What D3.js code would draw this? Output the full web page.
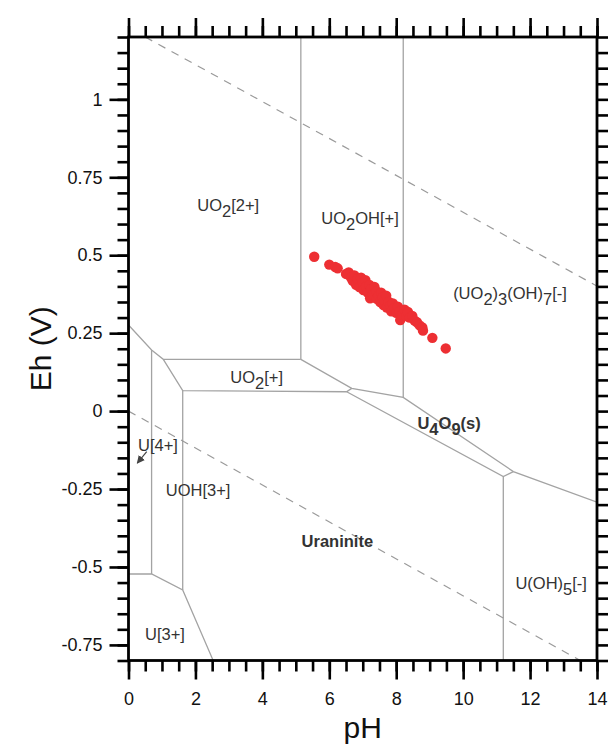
<!DOCTYPE html>
<html><head><meta charset="utf-8">
<script src="https://cdn.jsdelivr.net/npm/d3@7"></script>
<style>
html,body{margin:0;padding:0;background:#fff;}
svg{display:block;font-family:"Liberation Sans",Arial,sans-serif;}
</style></head>
<body><svg id="c" width="611" height="744"></svg>
<script>
// ---- data ----
const xDomain = [0, 14];
const yDomain = [-0.8, 1.2];
const xMajorTicks = [0, 2, 4, 6, 8, 10, 12, 14];
const yMajorTicks = [-0.75, -0.5, -0.25, 0, 0.25, 0.5, 0.75, 1];
const yTickLabels = ["-0.75", "-0.5", "-0.25", "0", "0.25", "0.5", "0.75", "1"];

// water stability limits (dashed)
const waterLines = [
  [[0.5, 1.2], [14, 0.401]],
  [[0, 0], [13.5, -0.8]]
];

// predominance boundaries, [pH, Eh] polylines
const boundaries = [
  [[5.15, 1.2], [5.15, 0.166]],
  [[8.21, 1.2], [8.21, 0.044]],
  [[0, 0.276], [0.69, 0.196], [1.04, 0.166], [5.15, 0.166]],
  [[0.69, 0.196], [0.69, -0.5225]],
  [[1.04, 0.166], [1.62, 0.066], [6.52, 0.062]],
  [[1.62, 0.066], [1.62, -0.574]],
  [[5.15, 0.166], [6.67, 0.073], [8.21, 0.044], [11.5, -0.194], [14, -0.292]],
  [[6.67, 0.073], [6.52, 0.062], [11.2, -0.210], [11.5, -0.194]],
  [[11.2, -0.210], [11.2, -0.8]],
  [[0, -0.5225], [0.69, -0.5225], [1.62, -0.574], [2.53, -0.8]]
];

// field labels: text ("_" marks a subscript), pH, Eh, bold
const labelText = ["UO_2[2+]", "UO_2OH[+]", "(UO_2)_3(OH)_7[-]", "UO_2[+]", "U_4O_9(s)",
  "U[4+]", "UOH[3+]", "Uraninite", "U(OH)_5[-]", "U[3+]"];
const labelPH = [2.98, 6.92, 11.4, 3.83, 9.58, 0.88, 2.08, 6.24, 12.63, 1.09];
const labelEh = [0.66, 0.62, 0.378, 0.109, -0.038, -0.108, -0.253, -0.417, -0.552, -0.716];
const labelBold = [false, false, false, false, true, false, false, true, false, false];

// U[4+] pointer arrow
const arrowFrom = [0.544, -0.130];
const arrowTo = [0.263, -0.167];

// sample points
const samplePH = [5.55, 6.00, 6.18, 6.25, 6.50, 6.58, 6.65, 6.70, 6.75, 6.80, 6.85, 6.90, 6.95, 7.00,
  7.02, 7.08, 7.10, 7.15, 7.20, 7.22, 7.25, 7.30, 7.35, 7.40, 7.42, 7.48, 7.52, 7.55, 7.60, 7.62,
  7.65, 7.70, 7.72, 7.78, 7.82, 7.85, 7.90, 7.95, 8.00, 8.05, 8.10, 8.12, 8.18, 8.25, 8.30, 8.35,
  8.40, 8.48, 8.55, 8.62, 8.70, 8.78, 8.80, 9.08, 9.48];
const sampleEh = [0.495, 0.470, 0.462, 0.458, 0.440, 0.445, 0.428, 0.418, 0.435, 0.405, 0.425, 0.398, 0.428, 0.412,
  0.388, 0.420, 0.400, 0.380, 0.405, 0.362, 0.392, 0.375, 0.398, 0.385, 0.360, 0.372, 0.350, 0.380, 0.365, 0.340,
  0.355, 0.370, 0.332, 0.350, 0.338, 0.320, 0.345, 0.330, 0.315, 0.335, 0.320, 0.292, 0.310, 0.325, 0.305, 0.318,
  0.300, 0.305, 0.290, 0.285, 0.275, 0.268, 0.258, 0.235, 0.201];

// ---- drawing ----
const svg = d3.select("#c");
const L = 128.5, R = 597, T = 37, B = 660.5;
const x = d3.scaleLinear().domain(xDomain).range([L, R]);
const y = d3.scaleLinear().domain(yDomain).range([B, T]);
const line = d3.line().x(d => x(d[0])).y(d => y(d[1]));

svg.append("rect").attr("width", 611).attr("height", 744).attr("fill", "#fff");
svg.append("defs").append("clipPath").attr("id", "clip")
  .append("rect").attr("x", L).attr("y", T).attr("width", R - L).attr("height", B - T);
svg.select("defs").append("marker").attr("id", "ah").attr("viewBox", "0 0 10 10")
  .attr("refX", 9).attr("refY", 5).attr("markerWidth", 8).attr("markerHeight", 8)
  .attr("markerUnits", "userSpaceOnUse").attr("orient", "auto")
  .append("path").attr("d", "M0,0L10,5L0,10z").attr("fill", "#444");

const g = svg.append("g").attr("clip-path", "url(#clip)");
g.selectAll("path.b").data(boundaries).join("path").attr("class", "b")
  .attr("d", line).attr("fill", "none").attr("stroke", "#a3a3a3").attr("stroke-width", 1.3);
g.selectAll("path.w").data(waterLines).join("path").attr("class", "w")
  .attr("d", line).attr("fill", "none").attr("stroke", "#9a9a9a").attr("stroke-width", 1.2)
  .attr("stroke-dasharray", "8,7");

// labels
const labels = labelText.map((t, i) => ({t, ph: labelPH[i], eh: labelEh[i], bold: labelBold[i]}));
labels.forEach(d => {
  const txt = svg.append("text").attr("x", x(d.ph)).attr("y", y(d.eh) + 6)
    .attr("text-anchor", "middle").attr("font-size", 16.5).attr("fill", "#333")
    .attr("font-weight", d.bold ? "bold" : "normal");
  const parts = d.t.split(/(_\d)/).filter(s => s.length);
  let shifted = false;
  parts.forEach(p => {
    if (p[0] === "_") {
      txt.append("tspan").attr("dy", 6).text(p.slice(1));
      shifted = true;
    } else {
      const ts = txt.append("tspan").text(p);
      if (shifted) { ts.attr("dy", -6); shifted = false; }
    }
  });
});

svg.append("line").attr("x1", x(arrowFrom[0])).attr("y1", y(arrowFrom[1]))
  .attr("x2", x(arrowTo[0])).attr("y2", y(arrowTo[1]))
  .attr("stroke", "#444").attr("stroke-width", 1.2).attr("marker-end", "url(#ah)");

// points
const pts = samplePH.map((p, i) => [p, sampleEh[i]]);
svg.append("g").selectAll("circle").data(pts).join("circle")
  .attr("cx", d => x(d[0])).attr("cy", d => y(d[1])).attr("r", 5.2).attr("fill", "#ed2f33");

// axes
const xMinor = d3.range(0, 14.001, 0.5);
const yMinor = d3.range(-0.8, 1.2001, 0.05).map(v => Math.round(v * 100) / 100);
const MAJ = 19, MIN = 11;
function styleAxis(sel) {
  sel.select(".domain").remove();
  sel.selectAll("line").attr("stroke", "#000").attr("stroke-width", 2.6);
  sel.selectAll("text").attr("fill", "#111").attr("font-size", 18)
    .attr("font-family", "'Liberation Sans',Arial,sans-serif");
}
svg.append("g").attr("transform", `translate(0,${B})`)
  .call(d3.axisBottom(x).tickValues(xMinor).tickSize(MIN).tickFormat("")).call(styleAxis);
svg.append("g").attr("transform", `translate(0,${B})`)
  .call(d3.axisBottom(x).tickValues(xMajorTicks).tickSize(MAJ).tickPadding(13).tickFormat(d3.format("d"))).call(styleAxis);
svg.append("g").attr("transform", `translate(0,${T})`)
  .call(d3.axisTop(x).tickValues(xMinor).tickSize(MIN).tickFormat("")).call(styleAxis);
svg.append("g").attr("transform", `translate(0,${T})`)
  .call(d3.axisTop(x).tickValues(xMajorTicks).tickSize(MAJ).tickFormat("")).call(styleAxis);
svg.append("g").attr("transform", `translate(${L},0)`)
  .call(d3.axisLeft(y).tickValues(yMinor).tickSize(MIN).tickFormat("")).call(styleAxis);
svg.append("g").attr("transform", `translate(${L},0)`)
  .call(d3.axisLeft(y).tickValues(yMajorTicks).tickSize(MAJ).tickPadding(7)
    .tickFormat((d, i) => yTickLabels[i])).call(styleAxis);
svg.append("g").attr("transform", `translate(${R},0)`)
  .call(d3.axisRight(y).tickValues(yMinor).tickSize(MIN).tickFormat("")).call(styleAxis);

// frame
svg.append("rect").attr("x", L).attr("y", T).attr("width", R - L).attr("height", B - T)
  .attr("fill", "none").attr("stroke", "#000").attr("stroke-width", 2.8);

// titles
svg.append("text").attr("x", (L + R) / 2).attr("y", 738).attr("text-anchor", "middle")
  .attr("font-size", 30).attr("fill", "#111").text("pH");
svg.append("text").attr("transform", `translate(51,${(T + B) / 2}) rotate(-90)`)
  .attr("text-anchor", "middle").attr("font-size", 30).attr("fill", "#111").text("Eh (V)");
</script></body></html>
